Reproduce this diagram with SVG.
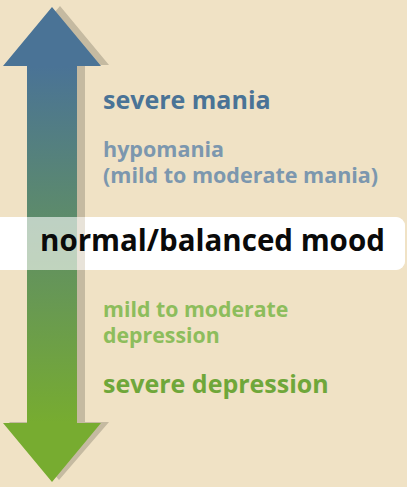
<svg xmlns="http://www.w3.org/2000/svg" width="407" height="487" viewBox="0 0 407 487">
<defs>
<linearGradient id="g" gradientUnits="userSpaceOnUse" x1="0" y1="66" x2="0" y2="423">
<stop offset="0" stop-color="#4a7396"/>
<stop offset="1" stop-color="#77ac30"/>
</linearGradient>
<style>
text{font-family:"Open Sans","Noto Sans","Liberation Sans",sans-serif;font-weight:bold}
.t1{font-size:25px;fill:#4a7396}
.t2{font-size:21.5px;fill:#7c97ae}
.t3{font-size:21.3px;fill:#8dbd5c}
.t4{font-size:25px;fill:#6fa73a}
.t0{font-size:29.5px;fill:#0a0a0a}
</style>
</defs>
<rect width="407" height="487" fill="#f0e2c5"/>
<g id="arrow">
<path d="M60,6 L109,65 L85,65 L85,422 L109,422 L59,480 L9,422 L35,422 L35,65 L10,65 Z" fill="#c5baa1"/>
<path d="M52,7 L101,66 L77,66 L77,423 L101,423 L52,482 L3,423 L27,423 L27,66 L3,66 Z" fill="url(#g)"/>
</g>
<g id="band">
<rect x="-10" y="217" width="415" height="53" rx="9" fill="#fff" fill-opacity="0.6"/>
<rect x="-10" y="217" width="37" height="53" fill="#fff"/>
<path d="M85,217 H396 A9,9 0 0 1 405,226 V261 A9,9 0 0 1 396,270 H85 Z" fill="#fff"/>
<text class="t0" x="40" y="251">normal/balanced mood</text>
</g>
<g id="labels">
<text class="t1" x="103" y="109">severe mania</text>
<text class="t2" x="103" y="157">hypomania</text>
<text class="t2" x="103" y="183">(mild to moderate mania)</text>
<text class="t3" x="103" y="317">mild to moderate</text>
<text class="t3" x="103" y="343">depression</text>
<text class="t4" x="103" y="393">severe depression</text>
</g>
</svg>
